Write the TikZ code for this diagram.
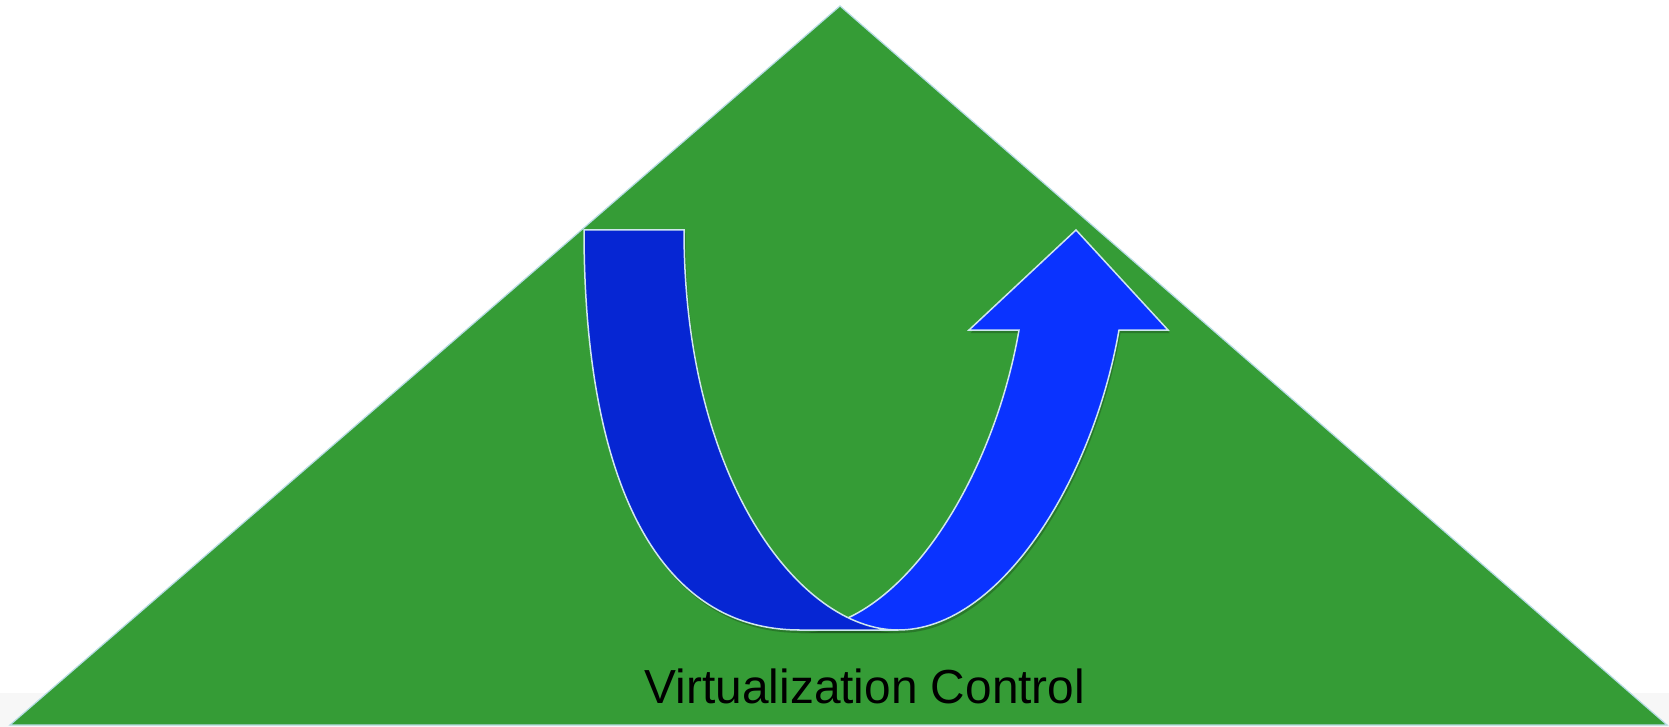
\documentclass[tikz,border=0pt]{standalone}
\usepackage{fontspec}
\setmainfont{Liberation Sans}
\usetikzlibrary{shadows}
\definecolor{tgreen}{HTML}{359C36}
\definecolor{bandL}{HTML}{0626D3}
\definecolor{bandR}{HTML}{0A33FF}
\definecolor{rimc}{HTML}{CFE6EE}
\definecolor{tririm}{HTML}{B5DCE3}
\definecolor{floorc}{HTML}{F7F7F7}
\tikzset{
  band/.style={draw=rimc, line width=1.5pt, line join=miter,
    drop shadow={shadow xshift=1.5pt, shadow yshift=-3pt, opacity=0.22, fill=black}},
  tri/.style={fill=tgreen, draw=tririm, line width=1.2pt},
  label/.style={font=\fontsize{47.8}{52}\selectfont, text=black, inner sep=0pt, anchor=base}
}
\begin{document}
\begin{tikzpicture}[x=1pt,y=-1pt]
\useasboundingbox (0,0) rectangle (1669,727);
\fill[white] (0,0) rectangle (1669,727);
\fill[floorc] (0,693) rectangle (1669,727);
% pyramid
\path[tri] (840,6) -- (1667,725) -- (10,725) -- cycle;
% right band with arrowhead
\path[band, fill=bandR] (1019,330) -- (969,330) -- (1076,230) -- (1168,330) -- (1119,330)
  .. controls (1093,480) and (1000,630) .. (898,630) -- (797,630)
  .. controls (900,630) and (993,480) .. (1019,330) -- cycle;
% left band
\path[band, fill=bandL] (584,230) -- (684,230)
  .. controls (684,480) and (800,630) .. (898,630) -- (800,630)
  .. controls (652,630) and (584,470) .. (584,230) -- cycle;
\node[label] (title) at (865,703) {Virtualization Control};
\end{tikzpicture}
\end{document}
